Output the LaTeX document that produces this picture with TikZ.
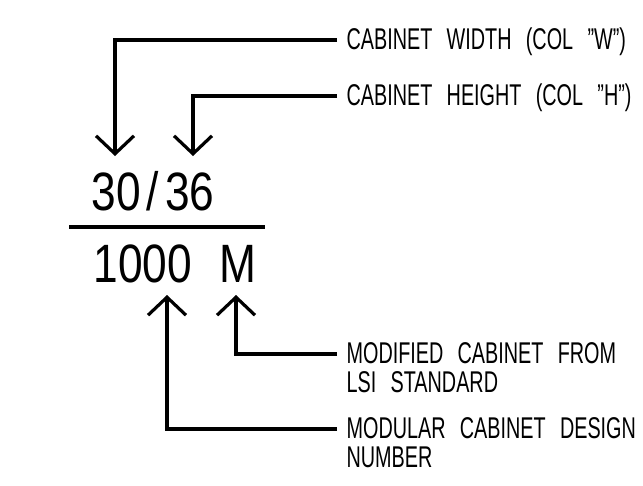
\documentclass[tikz,border=0pt]{standalone}
\usepackage{fontspec}
\setmainfont{Liberation Sans}[FakeStretch=0.66, WordSpace=2.6]
\newfontfamily\codefont{Liberation Sans}[FakeStretch=0.82, WordSpace=2.2]
\usetikzlibrary{arrows.meta}

\begin{document}
\begin{tikzpicture}[x=1pt, y=-1pt, line width=3.2pt,
  leader/.style={-{Straight Barb[length=18pt,width=38pt]}},
  callout/.style={anchor=base west, inner sep=0pt, align=left,
    font=\fontsize{30}{29}\selectfont},
  bignum/.style={anchor=base west, inner sep=0pt,
    font=\codefont\fontsize{54}{60}\selectfont}]
\useasboundingbox (0,0) rectangle (643,485);
% code in fraction form
\node[bignum] (size) at (90,210) {30\kern6pt/\kern6pt36};
\node[bignum] (model) at (92,282) {1000 M};
\draw (69,227) -- (265,227);
% where the leaders point
\coordinate (wtip) at (115,156);
\coordinate (htip) at (193,156);
\coordinate (ntip) at (167,295);
\coordinate (mtip) at (236,295);
% callouts (two-line ones sit on their last line)
\node[callout] (width) at (345,49) {CABINET WIDTH (COL ”W”)};
\node[callout] (height) at (345,105) {CABINET HEIGHT (COL ”H”)};
\node[callout] (modif) at (345,392) {MODIFIED CABINET FROM\\LSI STANDARD};
\node[callout] (design) at (345,467) {MODULAR CABINET DESIGN\\NUMBER};
\draw[leader] ([shift={(-8,-9)}]width.base west) -| (wtip);
\draw[leader] ([shift={(-8,-9)}]height.base west) -| (htip);
\draw[leader] ([shift={(-8,-38)}]modif.base west) -| (mtip);
\draw[leader] ([shift={(-8,-38)}]design.base west) -| (ntip);
\end{tikzpicture}
\end{document}
